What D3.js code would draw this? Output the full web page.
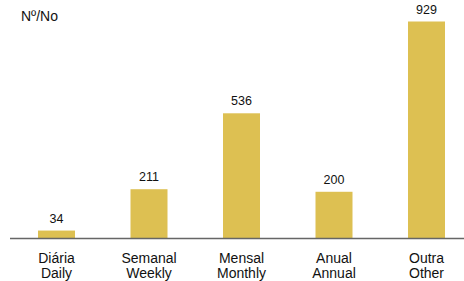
<!DOCTYPE html>
<html><head><meta charset="utf-8">
<script src="https://cdn.jsdelivr.net/npm/d3@7"></script>
<style>body{margin:0;background:#fff}svg{display:block}text{font-family:"Liberation Sans",Arial,sans-serif;fill:#111}</style>
</head><body>
<script>
const catsPt = ["Diária","Semanal","Mensal","Anual","Outra"];
const catsEn = ["Daily","Weekly","Monthly","Annual","Other"];
const values = [34,211,536,200,929];
const yTitle = "Nº/No";

const W=464,H=281, baseY=238.5, topY=21.5;
const svg=d3.select("body").append("svg").attr("width",W).attr("height",H);
const x=d3.scaleBand().domain(catsPt).range([19.5,463.5]).paddingInner(0.6).paddingOuter(0.2);
const y=d3.scaleLinear().domain([0,929]).range([baseY,topY]);

svg.selectAll("rect.bar").data(values).join("rect")
  .attr("x",(d,i)=>x(catsPt[i])).attr("width",x.bandwidth())
  .attr("y",d=>y(d)).attr("height",d=>baseY-y(d)).attr("fill","#DDC052");

svg.selectAll("text.val").data(values).join("text")
  .attr("x",(d,i)=>x(catsPt[i])+x.bandwidth()/2).attr("y",d=>y(d)-8)
  .attr("text-anchor","middle").attr("font-size",12.5).text(d=>d);

svg.append("line").attr("x1",10).attr("x2",W).attr("y1",baseY).attr("y2",baseY)
  .attr("stroke","#666").attr("stroke-width",1.5);

const lab=svg.selectAll("g.lab").data(catsPt).join("g")
  .attr("transform",(d)=>`translate(${x(d)+x.bandwidth()/2},0)`);
lab.append("text").attr("y",263).attr("text-anchor","middle").attr("font-size",14).text(d=>d);
lab.append("text").attr("y",277.5).attr("text-anchor","middle").attr("font-size",14).text((d,i)=>catsEn[i]);

svg.append("text").attr("x",21).attr("y",21).attr("font-size",14).text(yTitle);
</script>
</body></html>
